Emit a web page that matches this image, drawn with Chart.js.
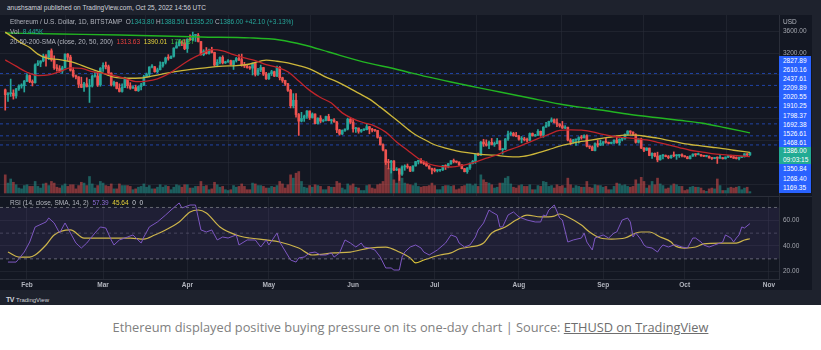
<!DOCTYPE html>
<html lang="en">
<head>
<meta charset="utf-8">
<title>ETHUSD 1D - TradingView</title>
<script src="https://cdn.jsdelivr.net/npm/chart.js@4.4.1/dist/chart.umd.min.js"></script>
<style>
    html, body { margin: 0; padding: 0; }
    body {
        width: 821px; height: 350px; position: relative; overflow: hidden;
        background: #ffffff; font-family: 'Liberation Sans', Arial, sans-serif;
    }
    .abs { position: absolute; }
    #frame { left: 0; top: 0; width: 821px; height: 305px; background: #1e222d; }
    #panel { left: 0; top: 15px; width: 812px; height: 275px; background: #131722; }
    #priceCanvas { left: 0; top: 15px; }
    #rsiCanvas { left: 0; top: 197px; }
    #paneSep { left: 0; top: 196px; width: 812px; height: 1px; background: #2a2e39; }
    #byline { left: 7px; top: 4px; font-size: 6.5px; color: #d1d4dc; white-space: nowrap; }
    .legend { left: 10px; font-size: 6.5px; line-height: 10px; color: #b2b5be; white-space: nowrap; }
    .teal { color: #26a69a; }
    .red { color: #e8403c; }
    .yel { color: #e6d33a; }
    .grn { color: #3fc53f; }
    .pur { color: #8c6bd6; }
    .wht { color: #d1d4dc; }
    #usd { left: 783px; top: 18px; font-size: 6.5px; color: #b2b5be; }
    .tags { left: 779px; width: 32px; }
    .tag { color: #ffffff; font-size: 6.5px; padding-left: 4px; box-sizing: border-box; background: #2962ff; }
    .tag.now { background: #22ab94; }
    #tvlogo { left: 6px; top: 296px; font-size: 6px; color: #d1d4dc; white-space: nowrap; }
    #tvlogo b { font-size: 7px; letter-spacing: -0.5px; margin-right: 2px; }
    #caption {
        left: 0; top: 318px; width: 821px; text-align: center;
        font-family: 'Open Sans', sans-serif; font-size: 12.8px; color: #808080;
    }
    #caption a { color: #6e6e6e; text-decoration: underline; }
</style>
</head>
<body>
<div id="frame" class="abs"></div>
<div id="panel" class="abs"></div>
<canvas id="priceCanvas" class="abs" width="812" height="181"></canvas>
<div id="paneSep" class="abs"></div>
<canvas id="rsiCanvas" class="abs" width="812" height="93"></canvas>

<div id="byline" class="abs">anushsamal published on TradingView.com, Oct 25, 2022 14:56 UTC</div>
<div class="abs legend" style="top:17px">Ethereum / U.S. Dollar, 1D, BITSTAMP &nbsp;O<span class="teal">1343.80</span> H<span class="teal">1388.50</span> L<span class="teal">1335.20</span> C<span class="teal">1386.00</span> <span class="teal">+42.10 (+3.13%)</span></div>
<div class="abs legend" style="top:27px">Vol &nbsp;<span class="teal">8.445K</span></div>
<div class="abs legend" style="top:37px">20-50-200-SMA (close, 20, 50, 200) &nbsp;<span class="red">1313.63</span> &nbsp;<span class="yel">1390.01</span> &nbsp;<span class="grn">1746.87</span></div>
<div class="abs legend" style="top:198px">RSI (14, close, SMA, 14, 2) &nbsp;<span class="pur">57.39</span> &nbsp;<span class="yel">45.64</span> &nbsp;<span class="wht">0</span> &nbsp;<span class="wht">0</span></div>
<div id="usd" class="abs">USD</div>
<div id="tagsUpper" class="abs tags" style="top:56px"></div>
<div id="tagsNow" class="abs tags" style="top:147px"></div>
<div id="tagsLower" class="abs tags" style="top:164px"></div>
<div id="tvlogo" class="abs"><b>TV</b>TradingView</div>
<div id="caption" class="abs">Ethereum displayed positive buying pressure on its one-day chart | Source: <a>ETHUSD on TradingView</a></div>

<script>
// ============================================================================
// Data (day 0 = Jan 24 2022, last day 274 = Oct 25 2022)
// ============================================================================

const firstOpen = 2530;

// Daily closes, one row per month
const closes = [
    2440,2460,2470,2420,2545,2600,2605,2690,
    2790,2680,2660,2985,3015,3055,3145,3120,3240,3075,2930,2915,2870,2930,3180,3125,2885,2785,2765,2630,2575,2640,2590,2600,2775,2780,2620,2920,
    2975,2950,2835,2620,2665,2555,2500,2575,2730,2605,2560,2570,2515,2590,2620,2770,2815,2945,2950,2860,2895,2970,3030,3110,3105,3140,3290,3330,3400,3385,3280,
    3450,3440,3520,3520,3410,3170,3235,3190,3260,3210,2980,3030,3120,3020,3040,3060,2990,3060,3100,3080,2985,2965,2935,2925,3010,2810,2890,2935,2815,2730,
    2825,2860,2780,2940,2750,2700,2640,2520,2240,2340,2080,1960,2010,2050,2145,2025,2090,1915,2015,1960,1975,2045,1970,1980,1945,1800,1725,1790,1815,1995,1940,
    1820,1835,1775,1800,1805,1860,1815,1795,1790,1665,1530,1435,1210,1205,1235,1070,1085,995,1125,1130,1125,1050,1145,1225,1245,1200,1190,1145,1100,1070,
    1060,1065,1075,1150,1135,1185,1240,1225,1215,1165,1095,1040,1110,1190,1230,1355,1340,1580,1545,1520,1575,1535,1550,1600,1440,1450,1635,1725,1735,1695,1680,
    1630,1635,1620,1610,1735,1690,1700,1775,1705,1850,1880,1955,1985,1935,1905,1875,1835,1850,1615,1575,1620,1620,1660,1655,1695,1505,1490,1425,1550,1525,1555,
    1585,1575,1555,1575,1615,1565,1630,1635,1720,1780,1760,1715,1575,1635,1470,1430,1470,1335,1375,1325,1255,1330,1330,1315,1295,1335,1330,1335,1335,1330,
    1310,1275,1325,1360,1350,1350,1330,1320,1320,1290,1280,1295,1285,1295,1275,1305,1330,1310,1285,1280,1300,1315,1365,1343.8,1386
];

const highs = [
    2545,2480,2725,2530,2555,2620,2640,2700,
    2820,2800,2710,3005,3060,3060,3180,3170,3245,3275,3150,2990,2970,2960,3185,3190,3160,2930,2800,2770,2760,2665,2750,2720,2800,2855,2830,2935,
    3020,3035,2980,2840,2690,2670,2640,2640,2760,2735,2660,2600,2615,2600,2650,2795,2835,2950,2990,2955,2925,3040,3035,3125,3170,3150,3295,3400,3445,3420,3445,
    3460,3530,3580,3540,3555,3410,3260,3300,3270,3305,3215,3080,3130,3150,3050,3080,3070,3060,3120,3170,3180,3030,2980,2960,3020,3030,2920,2980,2940,2850,
    2835,2885,2870,2960,2955,2760,2705,2650,2540,2460,2460,2100,2120,2070,2150,2145,2110,2095,2020,2060,1990,2050,2085,1990,2005,1955,1810,1800,1820,2015,2010,
    2000,1845,1835,1810,1820,1915,1865,1830,1805,1790,1675,1545,1440,1265,1245,1240,1115,1090,1145,1165,1180,1135,1145,1225,1250,1280,1235,1220,1150,1105,
    1105,1075,1080,1155,1165,1190,1240,1270,1235,1220,1165,1100,1115,1200,1245,1365,1380,1590,1630,1620,1595,1645,1580,1645,1600,1460,1645,1780,1765,1755,1755,
    1700,1680,1665,1650,1745,1745,1720,1805,1780,1860,1940,1960,2020,2000,2000,1915,1955,1880,1850,1640,1630,1630,1675,1700,1710,1710,1510,1510,1565,1610,1615,
    1590,1645,1580,1580,1620,1690,1640,1655,1730,1785,1785,1765,1730,1645,1650,1480,1475,1470,1385,1380,1395,1340,1350,1345,1335,1340,1400,1350,1345,1365,
    1330,1320,1330,1365,1365,1380,1355,1340,1325,1330,1295,1300,1310,1340,1300,1310,1335,1340,1315,1310,1305,1320,1370,1370,1388.5
];

const lows = [
    2160,2320,2410,2360,2380,2520,2560,2490,
    2680,2660,2600,2650,2970,2950,3040,2960,3080,3050,2900,2870,2850,2830,2925,3060,2870,2760,2730,2570,2570,2500,2580,2300,2580,2760,2590,2595,
    2865,2910,2815,2600,2595,2545,2490,2485,2570,2560,2540,2555,2510,2500,2530,2605,2760,2765,2930,2850,2840,2890,2940,3000,3070,3095,3125,3290,3330,3335,3260,
    3210,3430,3420,3410,3400,3160,3150,3180,3180,3200,2960,2955,3000,3000,3010,3030,2980,2900,3035,3060,2960,2935,2925,2900,2800,2780,2790,2860,2790,2720,
    2720,2790,2770,2770,2710,2665,2610,2500,2200,2200,2030,1700,1945,1955,2010,1990,2015,1910,1905,1930,1945,1965,1965,1920,1940,1750,1705,1715,1775,1800,1915,
    1760,1755,1740,1755,1785,1800,1730,1765,1775,1650,1525,1420,1170,1090,1015,1060,1060,880,970,1065,1100,1040,1050,1140,1180,1195,1170,1140,1085,1000,
    1035,1035,1045,1060,1080,1110,1170,1200,1200,1150,1090,1035,1010,1080,1180,1190,1330,1335,1500,1505,1460,1525,1500,1545,1435,1360,1440,1610,1700,1685,1675,
    1615,1565,1600,1580,1605,1690,1685,1700,1685,1665,1850,1865,1940,1925,1860,1850,1825,1825,1600,1530,1560,1520,1560,1630,1655,1490,1460,1425,1420,1490,1515,
    1520,1560,1545,1545,1550,1560,1525,1600,1630,1705,1720,1700,1560,1560,1460,1405,1425,1330,1280,1310,1220,1250,1270,1310,1275,1280,1310,1265,1300,1310,
    1305,1275,1270,1320,1320,1345,1320,1315,1310,1285,1265,1275,1190,1280,1270,1270,1295,1295,1280,1270,1255,1295,1305,1325,1335.2
];

// Volume, thousand ETH
const volumes = [
    110,60,85,65,50,30,25,45,
    50,40,40,70,40,30,55,60,45,70,60,35,30,45,55,40,50,50,25,45,65,60,45,100,55,30,45,70,
    60,45,40,55,25,25,55,45,45,45,40,20,25,35,40,55,35,45,25,25,35,50,35,45,40,20,35,50,45,35,50,
    50,30,30,40,40,70,40,45,20,25,65,50,35,40,20,15,20,45,35,40,55,40,20,20,60,55,45,45,40,30,
    30,40,35,45,70,55,30,50,110,90,120,130,70,35,30,45,35,50,45,40,20,20,40,35,35,70,60,30,20,55,45,
    55,35,30,15,15,45,50,30,25,50,55,70,200,150,150,80,60,150,90,60,55,50,45,60,40,35,40,40,45,60,
    45,20,20,40,45,45,40,45,20,25,40,45,55,55,45,55,40,110,80,65,60,50,30,35,60,60,90,100,55,35,30,
    45,50,40,40,50,20,20,45,40,70,65,40,45,30,50,40,45,30,90,50,30,45,40,35,35,70,35,30,50,45,45,
    35,40,20,20,40,60,55,45,50,40,35,40,80,55,95,70,30,45,70,50,90,55,45,25,30,45,55,50,40,40,
    15,20,35,40,35,35,30,15,10,25,30,25,85,45,15,15,30,35,30,35,40,20,30,35,8.4
];

// Moving averages: [day, price]
const sma20 = [
    [0,3075],[4,2960],[8,2850],[12,2790],[16,2800],[20,2860],[24,2930],[28,2920],[32,2860],[36,2830],
    [40,2790],[44,2740],[48,2680],[52,2690],[56,2730],[60,2820],[64,2950],[68,3080],[72,3180],[76,3260],
    [80,3240],[84,3170],[88,3110],[92,3060],[96,2990],[100,2940],[104,2860],[108,2690],[112,2520],[116,2390],
    [120,2290],[124,2110],[128,2000],[132,1930],[136,1870],[140,1760],[144,1580],[148,1430],[152,1280],[156,1180],
    [160,1135],[164,1125],[168,1150],[172,1200],[176,1270],[180,1330],[184,1410],[188,1480],[192,1560],[196,1640],
    [200,1720],[204,1790],[208,1800],[212,1795],[216,1765],[220,1720],[224,1680],[228,1660],[232,1640],[236,1620],
    [240,1575],[244,1530],[248,1480],[252,1430],[256,1400],[260,1370],[264,1350],[268,1335],[274,1314]
];
const sma50 = [
    [0,3580],[3,3480],[6,3380],[9,3300],[12,3180],[15,3110],[20,3080],[25,3030],[30,2940],[35,2850],
    [40,2760],[45,2740],[50,2745],[55,2790],[60,2840],[65,2880],[70,2910],[75,2940],[80,2960],[85,2970],
    [90,3000],[96,3070],[100,3050],[104,3020],[108,2970],[113,2890],[118,2760],[122,2680],[126,2580],[130,2470],
    [134,2360],[138,2215],[142,2060],[146,1900],[150,1745],[154,1630],[158,1530],[162,1470],[166,1420],[170,1385],
    [175,1355],[180,1340],[185,1315],[189,1310],[193,1340],[197,1395],[200,1440],[204,1505],[208,1550],[212,1590],
    [216,1620],[220,1650],[224,1680],[228,1705],[232,1705],[236,1680],[240,1650],[244,1610],[248,1570],[252,1535],
    [256,1510],[260,1485],[264,1460],[268,1430],[274,1390]
];
const sma200 = [
    [0,3564],[20,3546],[42,3528],[72,3491],[90,3475],[101,3437],[110,3346],[119,3218],[130,3060],[145,2891],
    [155,2770],[164,2672],[173,2580],[182,2490],[193,2380],[204,2272],[212,2210],[219,2163],[230,2080],[241,2017],
    [248,1975],[256,1926],[265,1840],[274,1746]
];

// RSI(14) and its 14-day SMA: [day, value]
const rsi = [
    [1,27.5],[4,27.5],[7,35.3],[9,43.1],[11,54.8],[15,58.7],[16,61.8],[18,57.9],[20,50.1],[22,57.9],
    [24,50.1],[26,42.3],[28,38.4],[30,42.3],[33,50.1],[35,54.8],[37,54],[39,44.7],[40,40.8],[42,44.7],
    [45,47],[47,48.6],[50,42.3],[51,47],[53,54.8],[56,58.7],[59,64.1],[61,68],[64,73.5],[65,69.6],
    [68,71.9],[70,71.9],[72,52.5],[74,50.9],[76,52.5],[78,44.7],[80,47],[82,46.2],[85,48.6],[86,40.8],
    [89,44.7],[92,44.7],[94,39.2],[96,44.7],[97,40.8],[100,50.1],[101,43.1],[105,29.1],[107,27.5],[108,30.7],
    [110,31.4],[112,34.6],[114,35.3],[116,33],[118,33],[120,34.6],[121,31.4],[123,34.6],[125,44.7],[127,42.3],
    [129,39.2],[131,42.3],[132,39.2],[134,38.4],[136,36.9],[138,31.4],[140,22.9],[142,22.9],[143,21.3],[145,21.3],
    [146,31.4],[147,35.3],[149,39.2],[151,40.8],[153,38.4],[154,35.3],[156,33],[159,36.9],[162,42.3],[164,48.6],
    [166,47],[167,42.3],[169,39.2],[171,40.8],[173,47],[174,52.5],[176,57.9],[178,68],[179,66.5],[181,64.1],
    [182,54.8],[183,54.8],[185,64.1],[187,66.5],[189,62.6],[192,60.2],[195,58.7],[197,58.7],[198,64.1],[199,63.3],
    [200,68],[202,71.9],[204,61.8],[205,60.2],[207,43.1],[209,44.7],[212,46.2],[213,50.1],[214,43.1],[216,36.9],
    [217,46.2],[220,48.6],[222,46.2],[224,50.1],[225,50.9],[227,60.2],[229,61.8],[230,58.7],[231,47],[232,50.1],
    [234,44.7],[235,40.8],[236,39.2],[238,38.4],[240,35.3],[241,38.4],[242,40.8],[244,39.2],[246,40.8],[247,40.8],
    [249,39.2],[251,38.4],[253,46.2],[254,46.2],[256,43.1],[257,40.8],[259,39.2],[261,40.8],[263,42.3],[264,43.1],
    [265,48.6],[267,46.2],[268,43.1],[269,46.2],[270,48.6],[271,54.8],[272,54],[274,57.39]
];
const rsiSma = [
    [1,35.3],[5,31.4],[9,31.4],[11,33],[15,40.8],[18,48.6],[24,52.5],[29,46.2],[38,46.2],[46,46.2],
    [51,45.4],[55,48.6],[59,52.5],[64,58.7],[68,66.5],[71,68],[74,65.7],[79,54.8],[85,48.6],[90,46.2],
    [96,44.7],[101,43.1],[108,38.4],[113,33],[121,34.6],[127,35.3],[134,38.4],[140,39.2],[145,35.3],[149,30.7],
    [151,26.8],[154,29.1],[160,33],[164,34.6],[167,37.7],[171,39.2],[176,42.3],[179,50.1],[184,54.8],[188,60.2],
    [192,64.1],[197,62.6],[202,63.3],[204,64.9],[207,62.6],[212,56.3],[215,50.9],[219,46.2],[223,45.4],[228,46.2],
    [232,50.1],[234,50.9],[237,50.9],[241,47],[245,43.1],[246,40.8],[250,38.4],[254,39.2],[257,41.6],[263,42.3],
    [269,42.3],[272,44.7],[274,45.64]
];

// Axis ticks and labels
const monthDays = [8, 36, 67, 97, 128, 158, 189, 220, 250, 281];
const monthNames = ['Feb', 'Mar', 'Apr', 'May', 'Jun', 'Jul', 'Aug', 'Sep', 'Oct', 'Nov'];
const priceTicks = [800, 1200, 1600, 2000, 2400, 2800, 3200, 3600];
const rsiTicks = [20, 40, 60];
const rsiBands = [70, 50, 30];

// Drawn horizontal levels and the price tags on the right scale
const levelLines = [2827.89, 2610.16, 2209.89, 1910.25, 1692.38, 1526.61];
const upperTags = ['2827.89', '2610.16', '2437.61', '2209.89', '2020.55', '1910.25', '1798.37', '1692.38', '1526.61', '1468.61'];
const nowTags = ['1386.00', '09:03:15'];
const lowerTags = ['1350.84', '1268.40', '1169.35'];

if (closes.length !== 275 || highs.length !== 275 || lows.length !== 275 || volumes.length !== 275) {
    throw new Error('length mismatch ' + [closes.length, highs.length, lows.length, volumes.length].join(','));
}

// ============================================================================
// Helpers
// ============================================================================

const X_MIN = -1.93, X_MAX = 284.7;
const FONT = "'Liberation Sans', Arial, sans-serif";
const GRID = 'rgba(42, 46, 57, 0.55)';
const UP = '#26a69a', DOWN = '#ef5350';

Chart.defaults.font.family = FONT;
Chart.defaults.animation = false;

const opens = closes.map((c, i) => i === 0 ? firstOpen : closes[i - 1]);
const isUp = closes.map((c, i) => c >= opens[i]);
const toPoints = pairs => pairs.map(p => ({ x: p[0], y: p[1] }));
const flatLine = y => [{ x: X_MIN, y: y }, { x: X_MAX, y: y }];

function fillTags(id, labels, h) {
    const box = document.getElementById(id);
    labels.forEach(t => {
        const el = document.createElement('div');
        el.className = 'tag' + (id === 'tagsNow' ? ' now' : '');
        el.style.height = h + 'px';
        el.style.lineHeight = h + 'px';
        el.textContent = t;
        box.appendChild(el);
    });
}
fillTags('tagsUpper', upperTags, 9.1);
fillTags('tagsNow', nowTags, 8.5);
fillTags('tagsLower', lowerTags, 9.67);

const monthAxis = (showLabels) => ({
    type: 'linear', min: X_MIN, max: X_MAX, offset: false,
    afterBuildTicks: ax => { ax.ticks = monthDays.map(v => ({ value: v })); },
    afterFit: ax => {
        ax.height = showLabels ? 11 : 0;
        ax.paddingLeft = 0; ax.paddingRight = 0;
    },
    ticks: {
        display: showLabels, autoSkip: false, maxRotation: 0, padding: 2,
        color: '#b2b5be', font: { size: 6.5, weight: 'bold' },
        callback: (v, i) => monthNames[i]
    },
    grid: { color: GRID, drawTicks: false },
    border: { display: showLabels, color: '#2a2e39' }
});

const rightAxis = (min, max, ticks) => ({
    position: 'right', min: min, max: max,
    afterBuildTicks: ax => { ax.ticks = ticks.map(v => ({ value: v })); },
    afterFit: ax => { ax.width = 33; ax.paddingTop = 0; ax.paddingBottom = 0; },
    ticks: { color: '#a3a6af', font: { size: 6.5 }, padding: 4, callback: v => v.toFixed(2) },
    grid: { color: GRID, drawTicks: false },
    border: { color: '#2a2e39' }
});

// ============================================================================
// Price pane
// ============================================================================

const priceChart = new Chart(document.getElementById('priceCanvas'), {
    type: 'bar',
    data: {
        datasets: [
            {
                label: 'Volume', yAxisID: 'yv', order: 10,
                data: volumes.map((v, i) => ({ x: i, y: v })),
                backgroundColor: isUp.map(u => u ? 'rgba(38,166,154,0.5)' : 'rgba(239,83,80,0.5)'),
                barThickness: 2
            },
            ...levelLines.map(lvl => ({
                type: 'line', order: 8, data: flatLine(lvl),
                borderColor: 'rgba(41,98,255,0.6)', borderWidth: 1, borderDash: [3, 3], pointRadius: 0
            })),
            {
                label: 'Wicks', order: 5,
                data: closes.map((c, i) => ({ x: i, y: [lows[i], highs[i]] })),
                backgroundColor: isUp.map(u => u ? UP : DOWN),
                barThickness: 1
            },
            {
                label: 'Bodies', order: 4,
                data: closes.map((c, i) => ({ x: i, y: [opens[i], c] })),
                backgroundColor: isUp.map(u => u ? UP : DOWN),
                barThickness: 2, minBarLength: 1
            },
            {
                type: 'line', label: 'SMA 200', order: 3, data: toPoints(sma200),
                borderColor: '#22b522', borderWidth: 1.4, pointRadius: 0, cubicInterpolationMode: 'monotone'
            },
            {
                type: 'line', label: 'SMA 50', order: 2, data: toPoints(sma50),
                borderColor: '#cdb73a', borderWidth: 1.3, pointRadius: 0, cubicInterpolationMode: 'monotone'
            },
            {
                type: 'line', label: 'SMA 20', order: 1, data: toPoints(sma20),
                borderColor: '#c0252b', borderWidth: 1.3, pointRadius: 0, cubicInterpolationMode: 'monotone'
            }
        ]
    },
    options: {
        responsive: false,
        devicePixelRatio: 1,
        events: [],
        layout: { padding: 0 },
        datasets: { bar: { grouped: false } },
        plugins: { legend: { display: false }, tooltip: { enabled: false } },
        scales: {
            x: monthAxis(false),
            y: rightAxis(597.4, 3891.6, priceTicks),
            yv: { display: false, min: -18.2, max: 1078.8 }
        }
    }
});

// ============================================================================
// RSI pane
// ============================================================================

const rsiChart = new Chart(document.getElementById('rsiCanvas'), {
    type: 'line',
    data: {
        datasets: [
            {
                data: flatLine(rsiBands[0]), fill: '+2', backgroundColor: 'rgba(126,87,194,0.12)',
                borderColor: 'rgba(120,123,134,0.8)', borderWidth: 1, borderDash: [3, 3], pointRadius: 0
            },
            {
                data: flatLine(rsiBands[1]),
                borderColor: 'rgba(120,123,134,0.45)', borderWidth: 1, borderDash: [3, 3], pointRadius: 0
            },
            {
                data: flatLine(rsiBands[2]),
                borderColor: 'rgba(120,123,134,0.8)', borderWidth: 1, borderDash: [3, 3], pointRadius: 0
            },
            {
                label: 'RSI', data: toPoints(rsi),
                borderColor: '#7e57c2', borderWidth: 1, pointRadius: 0, tension: 0
            },
            {
                label: 'RSI SMA', data: toPoints(rsiSma),
                borderColor: '#d9c23a', borderWidth: 1.2, pointRadius: 0, cubicInterpolationMode: 'monotone'
            }
        ]
    },
    options: {
        responsive: false,
        devicePixelRatio: 1,
        events: [],
        layout: { padding: 0 },
        plugins: { legend: { display: false }, tooltip: { enabled: false } },
        scales: {
            x: monthAxis(true),
            y: rightAxis(14.32, 78.13, rsiTicks)
        }
    }
});
</script>
</body>
</html>
